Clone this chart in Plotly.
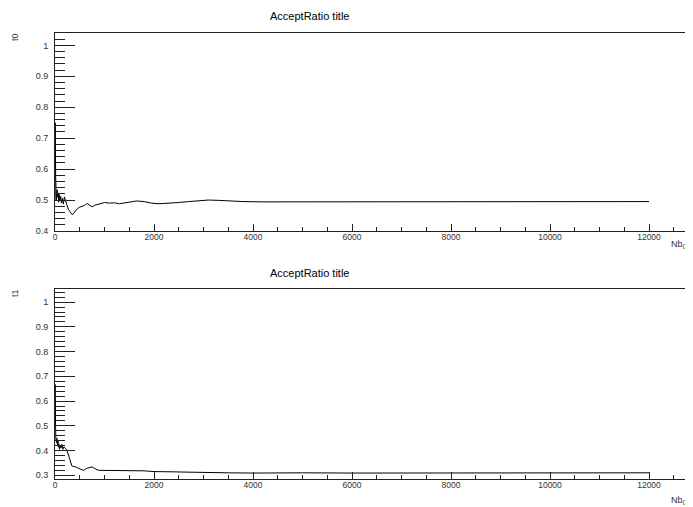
import plotly.graph_objects as go

# ---- data ----
x_t0 = [1, 3, 4, 6, 8, 10, 14, 18, 22, 28, 35, 45, 55, 65, 75, 85, 100, 115, 130, 150,
        170, 190, 210, 240, 270, 300, 330, 350, 380, 420, 460, 500, 550, 600, 650, 700,
        750, 800, 900, 1000, 1100, 1200, 1300, 1400, 1500, 1650, 1800, 1950, 2100, 2300,
        2500, 2700, 2900, 3100, 3300, 3500, 3800, 4200, 4600, 5000, 5500, 6000, 6500,
        7000, 7500, 8000, 8500, 9000, 9500, 10000, 10500, 11000, 11500, 12000]
y_t0 = [0.5, 0.667, 0.75, 0.667, 0.625, 0.6, 0.571, 0.556, 0.545, 0.5, 0.514, 0.533,
        0.509, 0.523, 0.493, 0.518, 0.5, 0.512, 0.49, 0.505, 0.487, 0.51, 0.5, 0.485,
        0.47, 0.463, 0.455, 0.452, 0.458, 0.467, 0.473, 0.477, 0.48, 0.483, 0.489, 0.482,
        0.478, 0.483, 0.488, 0.492, 0.49, 0.491, 0.488, 0.49, 0.493, 0.497, 0.495, 0.49,
        0.488, 0.489, 0.492, 0.495, 0.498, 0.5, 0.499, 0.497, 0.495, 0.494, 0.494, 0.493,
        0.494, 0.494, 0.493, 0.494, 0.494, 0.494, 0.495, 0.494, 0.493, 0.493, 0.494,
        0.494, 0.494, 0.495]

x_t1 = [1, 3, 5, 8, 12, 18, 25, 30, 40, 50, 60, 70, 80, 90, 100, 120, 140, 160, 180,
        200, 230, 260, 300, 340, 380, 420, 480, 540, 580, 640, 700, 750, 800, 850, 900,
        1000, 1200, 1400, 1600, 1800, 2000, 2200, 2400, 2600, 2800, 3000, 3500, 4000,
        4500, 5000, 6000, 7000, 8000, 9000, 10000, 11000, 12000]
y_t1 = [0.5, 0.667, 0.6, 0.5, 0.5, 0.444, 0.44, 0.433, 0.45, 0.42, 0.44, 0.414, 0.425,
        0.405, 0.42, 0.41, 0.425, 0.405, 0.415, 0.41, 0.405, 0.39, 0.365, 0.338, 0.335,
        0.334, 0.328, 0.325, 0.32, 0.328, 0.33, 0.334, 0.328, 0.322, 0.32, 0.32, 0.319,
        0.318, 0.32, 0.318, 0.315, 0.313, 0.314, 0.313, 0.312, 0.311, 0.31, 0.309, 0.31,
        0.31, 0.309, 0.309, 0.31, 0.31, 0.309, 0.31, 0.31]

title_text = "AcceptRatio title"
x_title = "Nb<sub>Ca</sub>"
y_titles = ["t0", "t1"]

W, H = 693, 507
OFF = 8  # page body margin offset
FONT = "Liberation Sans, Arial, Helvetica, sans-serif"

def px(x):
    return (x - OFF) / W

def py(y):
    return 1 - (y - OFF) / H

fig = go.Figure()
fig.add_trace(go.Scatter(x=x_t0, y=y_t0, mode="lines", line=dict(color="black", width=1),
                         xaxis="x", yaxis="y", showlegend=False))
fig.add_trace(go.Scatter(x=x_t1, y=y_t1, mode="lines", line=dict(color="black", width=1),
                         xaxis="x2", yaxis="y2", showlegend=False))

X_LEFT, X_RIGHT = 55, 693
XMAX = (X_RIGHT - X_LEFT) / 99.0 * 2000

def xax(anchor):
    return dict(domain=[px(X_LEFT), px(X_RIGHT)], range=[0, XMAX], anchor=anchor,
                automargin=False,
                showline=True, linecolor="#222", linewidth=1, mirror=True,
                ticks="inside", ticklen=7, tickcolor="#222", tickwidth=1,
                tick0=0, dtick=2000, tickformat="d",
                minor=dict(ticks="inside", ticklen=4, dtick=500, tickcolor="#222"),
                showgrid=False, zeroline=False, ticklabelstandoff=-2,
                tickfont=dict(family=FONT, size=8.5, color="#333"))

def yax(anchor, top, bottom, rng):
    return dict(domain=[py(bottom), py(top)], range=rng, anchor=anchor, automargin=False,
                showline=True, linecolor="#222", linewidth=1,
                ticks="inside", ticklen=20, tickcolor="#222", tickwidth=1,
                tick0=0, dtick=0.1,
                minor=dict(ticks="inside", ticklen=10, dtick=0.02, tickcolor="#222"),
                showgrid=False, zeroline=False, ticklabelstandoff=4,
                tickfont=dict(family=FONT, size=9, color="#333"))

fig.update_layout(
    width=W, height=H, margin=dict(l=0, r=0, t=0, b=0),
    paper_bgcolor="white", plot_bgcolor="white",
    xaxis=xax("y"),
    yaxis=yax("x", 33, 231, [0.3999, 1.04]),
    xaxis2=xax("y2"),
    yaxis2=yax("x2", 289, 479, [0.285, 1.053]),
)

anns = []
for ty in [16, 273]:
    anns.append(dict(text=title_text, x=px(309), y=py(ty), xref="paper", yref="paper",
                     xanchor="center", yanchor="middle", showarrow=False,
                     font=dict(family=FONT, size=11, color="black")))
for ty, t in zip([37, 293], y_titles):
    anns.append(dict(text=t, x=px(15), y=py(ty), xref="paper", yref="paper",
                     xanchor="center", yanchor="middle", showarrow=False, textangle=-90,
                     font=dict(family=FONT, size=9, color="#333")))
for ty in [245, 500]:
    anns.append(dict(text=x_title, x=px(693), y=py(ty), xref="paper", yref="paper",
                     xanchor="right", yanchor="middle", showarrow=False,
                     font=dict(family=FONT, size=9, color="#333")))
fig.update_layout(annotations=anns)

fig.write_html("out.html")
